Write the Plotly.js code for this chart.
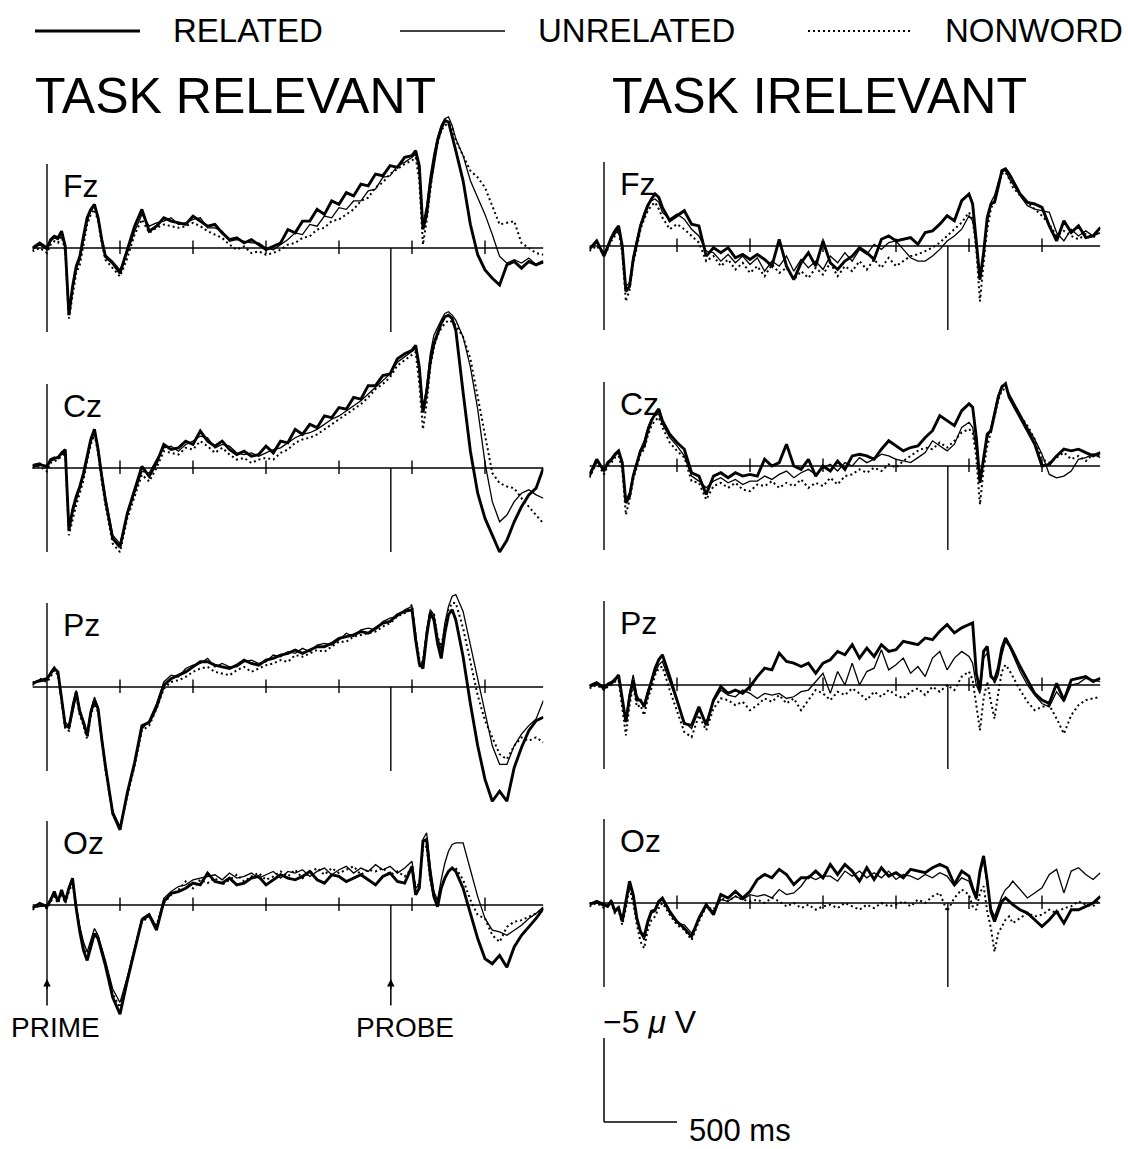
<!DOCTYPE html>
<html><head><meta charset="utf-8">
<script src="https://cdn.plot.ly/plotly-3.0.1.min.js"></script>
<style>html,body{margin:0;padding:0;background:#fff;}#chart{width:1128px;height:1149px;}</style>
</head><body><div id="chart"></div>
<script>
// ---------- data (time in ms, amplitude in microvolts, negative plotted up) ----------
const time = [-100,-50,0,25,50,75,100,125,150,175,200,225,250,275,300,325,350,375,400,
450,500,550,600,650,700,750,800,850,900,950,1000,1050,1100,1150,1200,1250,1300,1350,1400,
1450,1500,1550,1600,1650,1700,1750,1800,1850,1900,1950,2000,2050,2100,2150,2200,2250,2300,2350,2400,2450,
2500,2525,2550,2575,2600,2625,2650,2675,2700,2725,2750,2775,2800,2850,2900,2950,3000,3050,3100,3150,3200,3250,3300,3350,3400];
const electrodes = ['Fz','Cz','Pz','Oz'];
const conditions = ['RELATED','UNRELATED','NONWORD'];
const taskTitles = ['TASK RELEVANT','TASK IRELEVANT'];
const probeTime = 2355;
const tickTimes = [500,1000,1500,2000,2500,3000];

// TASK RELEVANT
const relFzRelated = [0,-0.3,0,-0.5,-0.7,-0.6,-1.0,-0.1,4.0,2.3,1.1,0.5,-0.7,-1.8,-2.3,-2.6,-1.8,-0.5,0.5,
0.9,1.5,0.1,-1.3,-2.3,-1.0,-1.3,-1.8,-1.6,-1.5,-1.4,-1.9,-1.6,-1.3,-1.4,-0.9,-0.5,-0.6,-0.3,-0.5,
-0.2,0.1,-0.1,-0.3,-1.1,-0.9,-1.6,-1.6,-2.3,-2.0,-2.8,-2.6,-3.3,-3.1,-3.8,-3.7,-4.4,-4.3,-4.9,-4.8,-5.4,
-5.5,-5.8,-4.9,-1.1,-2.0,-3.8,-5.2,-6.4,-7.1,-7.6,-7.5,-6.7,-5.8,-4.0,-1.4,0.4,1.3,1.8,2.2,1.0,0.8,1.2,0.8,1.0,0.8];
const relFzUnrelated = [0.1,-0.2,0.1,-0.4,-0.6,-0.5,-0.9,0,3.6,2.5,1.3,0.7,-0.5,-1.6,-2.2,-2.5,-1.9,-0.6,0.4,
0.8,1.3,0.3,-1.0,-2.0,-1.3,-1.5,-1.6,-1.8,-1.4,-1.5,-1.7,-1.8,-1.2,-1.2,-1.0,-0.4,-0.5,-0.4,-0.3,
-0.3,0.0,0.1,-0.2,-0.5,-0.9,-0.8,-1.4,-1.3,-1.9,-1.8,-2.4,-2.3,-2.8,-2.8,-3.4,-3.5,-4.2,-4.3,-4.9,-5.1,
-5.4,-5.6,-4.6,-1.4,-2.5,-4.3,-5.6,-6.6,-7.3,-7.7,-7.8,-7.3,-6.5,-5.5,-4.0,-3.0,-2.0,-0.8,0.5,0.9,0.7,0.9,0.6,1.0,0.9];
const relFzNonword = [0.2,0,0.3,-0.2,-0.4,-0.3,-0.7,0.2,4.2,2.8,1.5,1.0,-0.2,-1.4,-2.0,-2.3,-1.6,-0.3,0.7,
1.2,1.7,0.6,-0.8,-1.7,-0.9,-1.2,-1.4,-1.3,-1.2,-1.3,-1.5,-1.3,-1.0,-0.8,-0.6,-0.2,0.1,-0.1,0.3,
0.2,0.4,0.3,0.1,-0.2,-0.3,-0.6,-0.7,-1.1,-1.2,-1.6,-1.7,-2.0,-2.3,-2.8,-3.0,-3.6,-3.9,-4.4,-4.7,-5.0,
-5.2,-5.4,-4.0,-0.2,-1.6,-3.6,-5.2,-6.2,-7.0,-7.3,-7.4,-7.2,-6.4,-5.5,-4.6,-4.2,-3.6,-2.5,-1.4,-1.5,-1.6,-0.3,0.0,0.3,0.4];

const relCzRelated = [-0.1,-0.2,-0.1,-0.5,-0.6,-0.6,-0.9,-1.1,3.7,2.5,1.7,1.1,0.3,-0.7,-1.7,-2.3,-1.1,0.5,1.9,
4.2,4.7,2.7,1.3,-0.1,0.5,-0.3,-1.4,-1.1,-1.2,-1.6,-1.4,-2.2,-1.6,-1.3,-1.6,-1.1,-0.8,-1.0,-0.7,
-0.8,-1.3,-0.9,-1.6,-1.5,-2.3,-2.0,-2.6,-2.4,-3.1,-3.0,-3.6,-3.5,-4.2,-4.1,-4.9,-4.9,-5.5,-5.6,-6.5,-6.8,
-7.0,-7.3,-6.0,-3.3,-4.5,-6.3,-7.4,-8.0,-8.6,-9.0,-9.1,-8.9,-8.2,-4.5,-1.0,1.5,3.0,4.0,5.0,4.3,3.2,2.3,1.6,1.2,0.0];
const relCzUnrelated = [-0.2,-0.3,0,-0.4,-0.5,-0.7,-0.8,-1.0,3.4,2.7,1.9,1.2,0.5,-0.5,-1.5,-2.2,-1.2,0.3,1.7,
4.0,4.5,2.8,1.5,0.2,0.3,-0.5,-1.2,-1.3,-1.0,-1.4,-1.6,-1.9,-1.8,-1.2,-1.4,-1.3,-0.9,-0.8,-0.9,
-0.7,-0.9,-1.1,-1.2,-1.5,-1.8,-2.0,-2.1,-2.3,-2.6,-2.9,-3.1,-3.4,-3.7,-4.0,-4.4,-4.8,-5.2,-5.6,-6.3,-6.6,
-6.9,-7.1,-5.8,-3.5,-4.8,-6.8,-7.9,-8.4,-8.8,-9.2,-9.3,-9.1,-8.8,-7.8,-6.0,-3.5,-0.3,2.0,3.2,2.8,2.0,1.5,1.3,1.6,1.8];
const relCzNonword = [0,-0.1,0.2,-0.3,-0.4,-0.5,-0.7,-0.9,4.0,3.0,2.2,1.5,0.7,-0.4,-1.4,-2.0,-0.9,0.8,2.2,
4.5,5.0,3.0,1.7,0.4,0.8,0.0,-1.0,-0.9,-0.8,-1.2,-1.1,-1.6,-1.3,-0.9,-1.2,-0.8,-0.5,-0.6,-0.3,
-0.5,-0.6,-0.5,-0.9,-1.1,-1.5,-1.7,-1.8,-2.0,-2.3,-2.6,-2.9,-3.2,-3.5,-3.8,-4.2,-4.7,-5.0,-5.4,-6.1,-6.4,
-6.7,-6.9,-5.0,-2.3,-3.8,-6.0,-7.2,-7.9,-8.3,-8.6,-8.8,-8.7,-8.5,-7.8,-6.5,-4.2,-2.0,0.3,0.9,1.1,1.2,1.8,2.3,2.8,3.3];

const relPzRelated = [-0.2,-0.4,-0.5,-0.8,-1.1,-0.9,0.8,2.3,2.4,1.3,0.3,1.5,2.1,2.9,1.5,0.8,1.3,3.1,4.7,
7.5,8.5,6.3,4.5,2.3,2.1,1.2,-0.1,-0.5,-0.7,-0.9,-1.2,-1.5,-1.5,-1.3,-1.2,-1.1,-1.3,-1.6,-1.4,
-1.3,-1.6,-1.7,-1.9,-2.0,-2.2,-2.0,-2.2,-2.4,-2.4,-2.6,-2.9,-3.0,-3.1,-3.3,-3.2,-3.5,-3.8,-3.9,-4.3,-4.5,
-4.6,-2.8,-1.4,-1.1,-3.0,-4.4,-4.0,-2.6,-1.7,-3.2,-4.3,-4.6,-4.0,-1.8,1.0,3.5,5.5,6.8,6.2,6.8,4.8,3.6,2.6,2.0,1.8];
const relPzUnrelated = [-0.3,-0.3,-0.4,-0.9,-1.2,-0.8,0.6,2.1,2.3,1.0,0.2,1.3,2.0,2.7,1.4,0.6,1.2,3.0,4.6,
7.4,8.3,6.4,4.6,2.5,2.0,1.0,-0.3,-0.7,-0.6,-1.1,-1.3,-1.4,-1.7,-1.2,-1.4,-1.2,-1.2,-1.5,-1.6,
-1.4,-1.5,-1.9,-1.8,-2.1,-2.0,-2.3,-2.1,-2.5,-2.6,-2.5,-2.8,-3.2,-3.0,-3.4,-3.5,-3.4,-3.9,-4.1,-4.2,-4.6,
-4.8,-3.2,-1.2,-1.6,-3.4,-4.6,-4.3,-3.0,-2.2,-3.8,-4.8,-5.4,-5.5,-4.5,-2.5,-0.5,1.5,3.5,4.6,4.6,3.5,2.8,2.3,1.9,0.8];
const relPzNonword = [-0.1,-0.5,-0.3,-0.6,-1.0,-0.7,0.9,2.5,2.6,1.4,0.5,1.7,2.3,3.1,1.7,1.0,1.5,3.3,4.9,
7.6,8.4,6.5,4.7,2.6,2.3,1.3,0.1,-0.3,-0.4,-0.6,-0.9,-1.1,-1.2,-0.9,-0.8,-0.7,-1.0,-1.2,-0.9,
-1.1,-1.3,-1.4,-1.6,-1.5,-1.9,-1.8,-2.0,-2.2,-2.1,-2.4,-2.7,-2.7,-3.0,-3.1,-3.2,-3.3,-3.6,-3.8,-4.2,-4.4,
-4.9,-3.0,-1.7,-1.5,-3.2,-4.4,-4.4,-3.0,-2.4,-3.6,-4.6,-5.0,-5.0,-3.5,-1.5,0.5,2.0,3.0,4.0,4.3,3.5,3.0,3.2,3.0,3.3];

const relOzRelated = [0.2,-0.1,0.1,-0.3,-0.8,-0.2,-0.9,-0.2,-1.0,-1.6,0.2,1.6,2.7,3.3,2.5,1.7,2.0,2.8,3.6,
5.5,6.5,4.5,2.7,0.9,0.6,1.5,-0.2,-0.7,-0.8,-1.0,-1.3,-1.2,-1.9,-1.4,-1.3,-1.6,-1.2,-1.3,-1.6,
-1.7,-1.2,-1.5,-1.8,-1.6,-1.5,-1.7,-2.0,-1.5,-1.3,-1.8,-1.7,-1.4,-1.6,-1.8,-1.5,-1.2,-1.7,-1.9,-1.4,-1.3,
-2.3,-0.6,-1.0,-3.8,-3.9,-1.8,-0.5,0.1,-1.0,-1.6,-2.0,-2.2,-2.0,-1.0,0.5,2.0,3.2,3.5,3.0,3.7,2.5,1.8,1.3,0.8,0.2];
const relOzUnrelated = [0.1,0.1,0,-0.4,-0.6,-0.3,-0.8,-0.4,-0.9,-1.5,0.0,1.3,2.2,2.8,2.1,1.4,1.8,2.5,3.3,
5.0,5.8,4.3,2.5,0.8,0.5,1.3,-0.4,-0.8,-1.1,-1.2,-1.5,-1.6,-1.7,-1.8,-1.5,-1.9,-1.6,-1.7,-1.9,
-1.6,-1.8,-2.0,-1.6,-2.0,-1.9,-2.1,-1.7,-2.0,-2.2,-1.8,-2.1,-2.3,-1.9,-2.2,-2.0,-2.4,-2.1,-2.3,-1.9,-2.2,
-2.6,-1.0,-1.2,-3.9,-4.3,-2.3,-0.8,-0.3,-1.5,-2.5,-3.2,-3.6,-3.7,-3.7,-2.1,-0.5,0.8,1.5,1.6,1.8,1.5,1.2,0.8,0.5,0.1];
const relOzNonword = [0.3,0,0.2,-0.2,-0.5,-0.1,-0.7,-0.1,-0.8,-1.3,0.2,1.5,2.5,3.1,2.3,1.6,1.9,2.7,3.5,
5.3,6.1,4.4,2.6,1.0,0.7,1.2,-0.1,-0.6,-0.9,-1.4,-1.0,-1.5,-1.3,-1.6,-1.2,-1.5,-1.8,-1.4,-1.7,
-1.9,-1.5,-1.7,-2.0,-1.7,-2.1,-1.6,-1.9,-2.2,-1.8,-2.2,-1.9,-2.1,-2.3,-1.8,-2.1,-2.0,-2.2,-1.8,-2.0,-1.7,
-2.2,-1.0,-1.3,-3.3,-3.5,-1.5,-0.5,-0.2,-1.0,-1.6,-2.0,-2.2,-2.2,-1.5,-0.3,0.6,0.8,1.8,2.2,1.3,1.0,0.9,0.7,0.5,0.2];

// TASK IRRELEVANT
const irrFzRelated = [0.2,-0.3,0.6,0,-0.5,-0.9,-1.2,0,2.7,2.4,0.8,-0.2,-1.2,-1.8,-2.4,-2.8,-3.1,-2.9,-2.3,
-1.5,-1.8,-2.1,-1.3,-1.2,0.6,0.1,0.4,0.1,0.7,0.5,0.8,0.5,0.8,1.2,-0.4,1.2,2.0,1.0,0.4,
1.2,-0.3,1.0,1.4,0.9,0.6,0.1,0.4,0.8,-0.4,-0.6,-0.3,-0.4,-0.5,-0.1,-0.8,-0.9,-1.3,-1.8,-1.5,-2.7,
-3.1,-2.5,-0.4,2.0,0.4,-1.7,-2.5,-2.6,-3.5,-4.5,-4.6,-4.3,-3.9,-3.1,-2.6,-2.5,-2.3,-1.2,-0.3,-1.5,-0.8,-1.2,-0.5,-0.6,-1.1];
const irrFzUnrelated = [0.1,-0.2,0.4,0.1,-0.4,-0.7,-1.0,0.1,2.4,2.2,0.6,-0.4,-1.3,-2.0,-2.5,-2.7,-2.8,-2.6,-2.0,
-1.6,-1.9,-1.6,-1.0,-0.6,0.3,0.4,0.9,0.5,1.0,0.6,1.1,0.7,1.5,0.9,1.2,0.6,1.5,0.8,1.3,
0.9,1.4,0.6,1.0,0.4,0.9,0.2,0.5,-0.1,0.2,-0.2,-0.3,0.2,0.7,0.9,0.9,0.6,0.2,-0.3,-0.6,-1.0,
-1.8,-1.5,-0.2,2.0,0.6,-1.4,-2.6,-3.0,-3.8,-4.4,-4.5,-4.0,-3.7,-3.0,-2.4,-2.2,-2.1,-2.0,-0.8,-0.3,-1.0,-0.6,-0.9,-0.6,-0.8];
const irrFzNonword = [0.3,0,0.5,0.2,-0.3,-0.6,-0.9,0.4,3.3,2.6,1.0,0.1,-1.0,-1.6,-2.1,-2.4,-2.6,-2.2,-1.7,
-1.0,-1.3,-1.0,-0.6,-0.2,0.9,0.6,1.2,0.8,1.4,1.0,1.6,1.2,1.8,1.1,1.6,1.3,2.0,1.5,1.9,
1.3,1.7,1.0,1.8,1.2,1.5,0.9,1.4,0.8,1.3,0.7,1.2,0.9,0.6,0.5,0.3,0.1,-0.2,-0.6,-1.0,-1.4,
-2.0,-1.6,0.2,3.3,1.0,-1.0,-2.2,-2.8,-3.6,-4.3,-4.4,-4.0,-3.5,-3.0,-2.6,-2.2,-1.8,-1.3,-0.6,-0.9,-0.6,-0.4,-0.7,-0.5,-0.9];

const irrCzRelated = [0.6,-0.4,0.3,-0.2,-0.4,-0.7,-0.9,-0.2,2.2,1.8,0.6,-0.2,-0.9,-1.2,-2.1,-2.7,-3.1,-3.4,-2.7,
-1.9,-1.4,-1.0,0.4,0.6,1.7,0.6,0.4,0.7,0.4,0.6,0.5,0.6,-0.4,0.0,-0.2,-1.3,0.0,0.2,-0.4,
0.6,0.0,0.3,-0.3,0.2,-0.6,-0.7,-0.6,-0.4,-1.0,-1.5,-1.2,-0.9,-1.1,-1.2,-1.7,-2.1,-3.0,-2.7,-2.4,-3.3,
-3.7,-3.5,-1.7,1.0,-0.6,-1.9,-2.1,-3.1,-4.1,-4.7,-4.9,-4.1,-3.7,-2.9,-2.1,-1.3,0.0,-0.1,-0.6,-1.0,-0.9,-1.0,-0.8,-0.6,-0.8];
const irrCzUnrelated = [0.4,-0.3,0.2,-0.1,-0.3,-0.6,-0.8,-0.1,2.0,1.6,0.5,-0.3,-1.0,-1.5,-2.3,-2.8,-3.0,-3.1,-2.5,
-1.7,-1.2,-0.6,0.6,0.9,1.3,0.9,0.7,1.0,0.8,1.1,0.9,0.9,0.6,0.8,0.5,0.3,0.7,0.4,0.2,
0.5,0.1,-0.1,0.3,-0.2,0.0,-0.5,-0.2,-0.4,-0.7,-0.6,-0.4,-0.3,-0.2,-0.5,-0.8,-1.5,-1.2,-0.9,-1.3,-2.3,
-2.6,-2.3,-1.0,1.0,-0.3,-1.6,-2.3,-3.3,-4.2,-4.8,-4.8,-4.3,-3.9,-3.1,-2.3,-1.6,-0.7,0.5,0.7,0.6,0.3,-0.4,-0.5,-0.7,-0.5];
const irrCzNonword = [0.7,-0.2,0.5,0,-0.2,-0.5,-0.6,0.2,2.9,2.0,0.8,0,-0.7,-1.0,-1.8,-2.4,-2.7,-2.9,-2.3,
-1.4,-0.9,-0.5,0.9,1.0,2.0,1.2,1.0,1.3,1.0,1.4,1.5,1.1,1.2,0.9,1.3,1.0,1.2,0.8,1.3,
1.0,1.2,0.7,1.1,0.6,0.5,0.2,0.4,0.1,0.3,-0.1,0.1,-0.3,-0.6,-0.9,-1.1,-1.0,-1.4,-1.1,-1.5,-2.0,
-2.2,-2.0,-0.5,2.3,0.2,-1.2,-2.0,-3.0,-3.9,-4.5,-4.6,-4.2,-3.8,-3.0,-2.4,-1.6,-0.4,-0.2,-0.5,-0.8,-0.4,-0.6,-0.3,-0.7,-0.6];

const irrPzRelated = [0.1,-0.1,0.2,0.0,-0.1,-0.3,-0.6,0.9,2.2,0.7,-0.3,0.9,0.9,1.3,0.5,-0.3,-1.0,-1.5,-1.8,
-0.5,0.9,2.3,2.4,1.3,2.4,0.9,0.1,0.5,0.3,0.5,0.1,-0.5,-1.0,-0.9,-1.9,-1.4,-1.3,-1.1,-1.3,
-0.7,-1.3,-1.5,-2.0,-1.8,-2.4,-1.6,-2.2,-1.7,-2.4,-2.0,-2.1,-2.6,-2.5,-2.4,-2.8,-2.7,-3.2,-3.6,-3.1,-3.4,
-3.6,-3.7,-0.7,0.3,-2.0,-2.3,-0.5,-0.3,-1.0,-2.2,-2.8,-2.4,-2.0,-1.1,-0.3,0.5,0.9,1.1,-0.1,0.9,-0.3,-0.4,-0.5,-0.2,-0.4];
const irrPzUnrelated = [0.0,-0.2,0.1,-0.1,-0.2,-0.4,-0.5,1.0,2.0,0.5,-0.6,0.6,1.0,1.1,0.3,-0.2,-0.8,-1.2,-1.4,
-0.2,1.1,2.2,2.6,1.5,2.2,1.0,0.3,0.6,0.7,0.3,0.5,0.8,0.5,0.6,0.5,0.8,0.7,0.4,0.3,
-0.2,-0.7,0.5,-0.8,0.0,-1.3,0.0,-0.8,-1.0,-2.1,-0.9,-1.2,-1.6,-0.7,-1.1,-0.5,-1.6,-2.0,-0.9,-1.6,-2.0,
-1.7,-1.3,0.0,0.5,-1.6,-1.9,-0.7,-0.1,-0.6,-1.8,-2.6,-2.3,-1.8,-0.8,0.0,0.6,1.1,1.3,0.4,1.0,0.0,-0.1,-0.4,-0.3,-0.2];
const irrPzNonword = [0.2,0.0,0.3,0.1,0.0,-0.2,-0.3,1.5,3.0,1.2,0.0,1.3,1.2,1.8,0.8,0.2,-0.6,-1.0,-1.1,
0.3,1.6,2.8,3.1,1.8,2.7,1.4,0.8,0.9,1.2,1.0,1.5,1.2,0.8,1.0,0.6,1.1,0.8,1.5,0.9,
0.3,0.5,0.9,0.4,0.6,0.2,0.5,0.9,0.4,0.7,0.3,0.6,0.8,0.4,0.2,0.6,0.1,0.4,0.0,0.3,-0.5,
-0.8,-0.3,1.2,2.7,0.8,-0.2,1.0,2.0,0.5,-0.8,-1.2,-0.9,-0.5,0.3,1.0,1.5,1.3,1.2,2.0,2.9,1.8,1.2,0.9,0.8,0.7];

const irrOzRelated = [0.1,-0.1,0.1,0.2,-0.1,0.5,0.3,1.1,-0.1,-1.3,-0.5,0.9,1.7,2.0,1.1,0.5,0.4,-0.1,-0.3,
0.5,1.1,1.5,2.0,0.9,0.1,0.7,-0.5,-0.3,-0.7,-0.3,-0.7,-1.4,-1.7,-1.5,-2.0,-1.7,-1.1,-1.5,-1.5,
-1.9,-1.5,-2.3,-1.7,-2.3,-1.9,-1.3,-2.1,-1.4,-2.1,-1.6,-1.8,-1.5,-2.0,-1.9,-1.8,-2.1,-2.3,-2.1,-1.1,-1.9,
-1.6,-0.9,-0.3,-1.9,-2.8,-1.3,0.5,1.1,0.5,-0.1,-0.3,-0.1,0.1,0.4,0.6,1.0,1.4,1.0,0.5,1.2,0.4,0.4,0.2,0.0,-0.4];
const irrOzUnrelated = [0.0,0.0,0.2,0.1,-0.2,0.4,0.2,1.0,0.0,-1.1,-0.3,1.0,1.8,2.2,1.3,0.6,0.5,0.0,-0.2,
0.6,1.2,1.3,1.8,1.0,0.2,0.5,-0.2,-0.1,-0.4,-0.2,-0.5,-0.4,-0.5,-0.3,-0.8,-0.5,-0.6,-1.0,-1.6,
-1.4,-1.6,-1.6,-1.3,-1.9,-1.6,-1.9,-1.5,-1.8,-1.5,-1.9,-1.4,-1.7,-1.6,-1.4,-1.7,-1.5,-1.8,-1.6,-1.0,-1.5,
-1.3,-0.7,-0.2,-1.7,-2.6,-1.1,0.3,0.8,0.2,-0.4,-0.8,-1.0,-1.3,-0.8,-0.3,-0.6,-0.9,-1.7,-2.0,-0.6,-1.9,-2.1,-1.7,-1.4,-1.8];
const irrOzNonword = [0.2,0.0,0.3,0.2,0.0,0.6,0.4,1.3,0.3,-0.9,0.0,1.3,2.3,2.7,1.6,1.0,0.8,0.3,0.0,
0.7,1.3,1.6,2.2,1.1,0.2,0.4,-0.3,-0.1,-0.4,-0.2,-0.1,-0.2,0.0,-0.3,-0.1,0.2,0.0,0.3,0.1,
0.4,0.2,0.1,0.3,0.0,0.2,0.4,0.1,0.3,0.0,0.2,0.1,-0.1,0.2,-0.2,0.0,-0.4,-0.6,0.5,-0.3,-0.8,
-0.5,0.2,0.4,-0.6,-1.0,0.5,1.5,2.9,1.8,1.4,1.0,0.8,1.2,0.9,0.6,0.8,0.7,0.4,0.6,0.3,0.2,-0.1,0.1,0.2,-0.2];

// ---------- layout geometry ----------
const W = 1128, H = 1149;
const FONT = 'Liberation Sans, Arial, Helvetica, sans-serif';
const pxPerUV = 16.8, pxPerMs = 0.146, halfUV = 10;
const colAxisPx = [47, 604];
const baselinePx = [[248, 468, 687, 905], [246, 466, 685, 903]];
const X = p => p / W, Y = p => 1 - p / H;

const series = [
  [[relFzRelated, relFzUnrelated, relFzNonword], [relCzRelated, relCzUnrelated, relCzNonword],
   [relPzRelated, relPzUnrelated, relPzNonword], [relOzRelated, relOzUnrelated, relOzNonword]],
  [[irrFzRelated, irrFzUnrelated, irrFzNonword], [irrCzRelated, irrCzUnrelated, irrCzNonword],
   [irrPzRelated, irrPzUnrelated, irrPzNonword], [irrOzRelated, irrOzUnrelated, irrOzNonword]]
];
const lineStyles = [
  {color: '#000', width: 2.9, dash: 'solid'},
  {color: '#000', width: 1.3, dash: 'solid'},
  {color: '#000', width: 2.0, dash: '2px,3px'}
];

const traces = [], shapes = [], annotations = [];
const layout = {
  width: W, height: H, margin: {l: 0, r: 0, t: 0, b: 0},
  paper_bgcolor: '#fff', plot_bgcolor: 'rgba(0,0,0,0)', showlegend: false,
  font: {family: FONT, color: '#000'}
};
const t0 = time[0], t1 = time[time.length - 1];
for (let c = 0; c < 2; c++) {
  const xName = c === 0 ? 'xaxis' : 'xaxis2';
  layout[xName] = {
    domain: [X(colAxisPx[c] + t0 * pxPerMs), X(colAxisPx[c] + t1 * pxPerMs)],
    range: [t0, t1], visible: false, fixedrange: true, anchor: c === 0 ? 'y' : 'y5'
  };
}
let lenErr = [];
for (let c = 0; c < 2; c++) {
  for (let r = 0; r < 4; r++) {
    const k = c * 4 + r + 1;
    const yName = k === 1 ? 'yaxis' : 'yaxis' + k;
    const yRef = k === 1 ? 'y' : 'y' + k;
    const xRef = c === 0 ? 'x' : 'x2';
    const b = baselinePx[c][r];
    layout[yName] = {
      domain: [Y(b + halfUV * pxPerUV), Y(b - halfUV * pxPerUV)],
      range: [halfUV, -halfUV], visible: false, fixedrange: true, anchor: xRef
    };
    [2, 1, 0].forEach(s => {
      const arr = series[c][r][s];
      if (arr.length !== time.length) lenErr.push(taskTitles[c] + ' ' + electrodes[r] + ' ' + conditions[s] + ':' + arr.length);
      traces.push({
        type: 'scatter', mode: 'lines', x: time, y: arr, xaxis: xRef, yaxis: yRef,
        name: conditions[s], line: Object.assign({}, lineStyles[s]), hoverinfo: 'skip'
      });
    });
    const ln = {color: '#000', width: 1.4};
    shapes.push({type: 'line', xref: xRef, yref: yRef, x0: t0, x1: t1, y0: 0, y1: 0, line: ln});
    shapes.push({type: 'line', xref: xRef, yref: yRef, x0: 0, x1: 0, y0: -5, y1: 5, line: ln});
    shapes.push({type: 'line', xref: xRef, yref: yRef, x0: probeTime, x1: probeTime, y0: 0, y1: 5, line: ln});
    tickTimes.forEach(tt => shapes.push({type: 'line', xref: xRef, yref: yRef, x0: tt, x1: tt, y0: -0.45, y1: 0.35, line: ln}));
    annotations.push({
      xref: 'paper', yref: 'paper', x: X(colAxisPx[c] + 14), y: Y(b - 62), xanchor: 'left', yanchor: 'middle',
      text: electrodes[r], showarrow: false, font: {family: FONT, size: 32, color: '#000'}
    });
    if (c === 0 && r === 3) {
      [0, probeTime].forEach(tt => annotations.push({
        xref: xRef, yref: yRef, x: tt, y: 4.4, ax: 0, ay: 28, axref: 'pixel', ayref: 'pixel',
        text: '', showarrow: true, arrowhead: 2, arrowsize: 1, arrowwidth: 1.5, arrowcolor: '#000'
      }));
    }
  }
}
// event labels
annotations.push({xref: 'paper', yref: 'paper', x: X(55), y: Y(1027), text: 'PRIME', showarrow: false,
  xanchor: 'center', yanchor: 'middle', font: {family: FONT, size: 28, color: '#000'}});
annotations.push({xref: 'paper', yref: 'paper', x: X(405), y: Y(1027), text: 'PROBE', showarrow: false,
  xanchor: 'center', yanchor: 'middle', font: {family: FONT, size: 28, color: '#000'}});
// titles
annotations.push({xref: 'paper', yref: 'paper', x: X(33), y: Y(96), text: taskTitles[0], showarrow: false,
  xanchor: 'left', yanchor: 'middle', font: {family: FONT, size: 50, color: '#000'}});
annotations.push({xref: 'paper', yref: 'paper', x: X(610), y: Y(96), text: taskTitles[1], showarrow: false,
  xanchor: 'left', yanchor: 'middle', font: {family: FONT, size: 50, color: '#000'}});
// legend
const legLines = [[35, 140], [400, 505], [808, 912]];
const legText = [171, 536, 943];
for (let s = 0; s < 3; s++) {
  shapes.push({type: 'line', xref: 'paper', yref: 'paper', x0: X(legLines[s][0]), x1: X(legLines[s][1]),
    y0: Y(31), y1: Y(31), line: {color: '#000', width: lineStyles[s].width, dash: lineStyles[s].dash}});
  annotations.push({xref: 'paper', yref: 'paper', x: X(legText[s]), y: Y(31), text: conditions[s], showarrow: false,
    xanchor: 'left', yanchor: 'middle', font: {family: FONT, size: 33, color: '#000'}});
}
// scale bar
shapes.push({type: 'line', xref: 'paper', yref: 'paper', x0: X(604), x1: X(604), y0: Y(1038), y1: Y(1038 + 5 * pxPerUV), line: {color: '#000', width: 1.5}});
shapes.push({type: 'line', xref: 'paper', yref: 'paper', x0: X(604), x1: X(604 + 500 * pxPerMs), y0: Y(1038 + 5 * pxPerUV), y1: Y(1038 + 5 * pxPerUV), line: {color: '#000', width: 1.5}});
annotations.push({xref: 'paper', yref: 'paper', x: X(601), y: Y(1022), text: '\u22125 <i>\u03bc</i> V', showarrow: false,
  xanchor: 'left', yanchor: 'middle', font: {family: FONT, size: 32, color: '#000'}});
annotations.push({xref: 'paper', yref: 'paper', x: X(687), y: Y(1130), text: '500 ms', showarrow: false,
  xanchor: 'left', yanchor: 'middle', font: {family: FONT, size: 31, color: '#000'}});
if (lenErr.length) annotations.push({xref: 'paper', yref: 'paper', x: 0.5, y: 0.5, text: 'LEN ' + lenErr.join('<br>'),
  showarrow: false, font: {size: 16, color: 'red'}, bgcolor: '#ff0'});

layout.shapes = shapes;
layout.annotations = annotations;
Plotly.newPlot('chart', traces, layout, {staticPlot: true, displayModeBar: false});
</script>
</body></html>
